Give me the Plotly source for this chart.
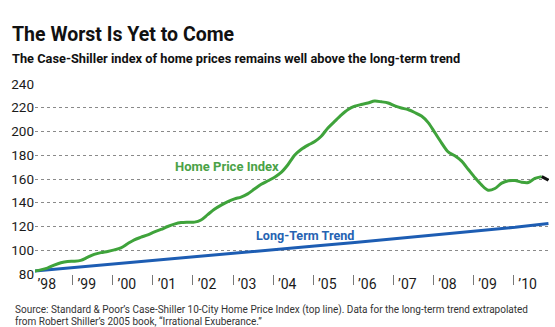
import plotly.graph_objects as go

# Case-Shiller 10-City Home Price Index (monthly readings, every other month)
hpi_dates = [
    "1998-01-15", "1998-03-15", "1998-05-15", "1998-07-15", "1998-09-15", "1998-11-15",
    "1999-01-15", "1999-03-15", "1999-05-15", "1999-07-15", "1999-09-15", "1999-11-15",
    "2000-01-15", "2000-03-15", "2000-05-15", "2000-07-15", "2000-09-15", "2000-11-15",
    "2001-01-15", "2001-03-15", "2001-05-15", "2001-07-15", "2001-09-15", "2001-11-15",
    "2002-01-15", "2002-03-15", "2002-05-15", "2002-07-15", "2002-09-15", "2002-11-15",
    "2003-01-15", "2003-03-15", "2003-05-15", "2003-07-15", "2003-09-15", "2003-11-15",
    "2004-01-15", "2004-03-15", "2004-05-15", "2004-07-15", "2004-09-15", "2004-11-15",
    "2005-01-15", "2005-03-15", "2005-05-15", "2005-07-15", "2005-09-15", "2005-11-15",
    "2006-01-15", "2006-03-15", "2006-05-15", "2006-07-15", "2006-09-15", "2006-11-15",
    "2007-01-15", "2007-03-15", "2007-05-15", "2007-07-15", "2007-09-15", "2007-11-15",
    "2008-01-15", "2008-03-15", "2008-05-15", "2008-07-15", "2008-09-15", "2008-11-15",
    "2009-01-15", "2009-03-15", "2009-05-15", "2009-07-15", "2009-09-15", "2009-11-15",
    "2010-01-15", "2010-03-15", "2010-05-15", "2010-07-15", "2010-09-15", "2010-11-15",
]
hpi_values = [
    82.5, 83.5, 85.0, 87.5, 89.5, 90.6,
    90.8, 91.5, 94.0, 96.5, 98.0, 99.0,
    100.3, 102.0, 105.5, 108.8, 111.0, 113.0,
    115.5, 117.5, 120.0, 122.0, 123.3, 123.6,
    123.7, 125.5, 130.0, 134.5, 138.0, 141.0,
    143.3, 144.8, 147.5, 151.5, 155.5, 158.5,
    161.5, 165.5, 172.0, 180.0, 185.0, 188.5,
    191.5, 196.0, 203.0, 208.5, 214.0, 218.5,
    221.3, 222.8, 224.0, 225.6, 225.0, 224.0,
    221.5, 219.8, 218.5, 216.0, 213.0, 207.5,
    199.0, 190.5, 182.8, 179.5, 175.0, 168.0,
    161.0, 155.0, 150.5, 152.0, 156.5, 158.5,
    158.7, 157.3, 157.0, 160.5, 162.0, 159.0,
]

# Long-term trend extrapolated from Shiller (yearly points)
trend_dates = [
    "1998-01-15", "1999-01-15", "2000-01-15", "2001-01-15", "2002-01-15",
    "2003-01-15", "2004-01-15", "2005-01-15", "2006-01-15", "2007-01-15",
    "2008-01-15", "2009-01-15", "2010-01-15", "2010-11-15",
]
trend_values = [
    82.5, 85.6, 88.7, 91.8, 94.8,
    97.8, 100.6, 103.6, 106.6, 109.7,
    112.8, 116.0, 119.3, 122.6,
]

y_ticks = [80, 100, 120, 140, 160, 180, 200, 220, 240]

GREEN = "#3fa33b"
GREEN_TEXT = "#4aa247"
BLUE = "#1d5db3"
BLUE_TEXT = "#2663b2"
FONT = "Roboto, Liberation Sans, sans-serif"

fig = go.Figure()

fig.add_trace(go.Scatter(
    x=trend_dates, y=trend_values, mode="lines",
    line=dict(color=BLUE, width=3), hoverinfo="skip", showlegend=False,
))
fig.add_trace(go.Scatter(
    x=hpi_dates[:-1], y=hpi_values[:-1], mode="lines",
    line=dict(color=GREEN, width=3, shape="spline", smoothing=0.8),
    hoverinfo="skip", showlegend=False,
))
# most recent reading drawn in black
fig.add_trace(go.Scatter(
    x=hpi_dates[-2:], y=hpi_values[-2:], mode="lines",
    line=dict(color="#111111", width=3), hoverinfo="skip", showlegend=False,
))

fig.update_layout(
    width=555, height=327,
    margin=dict(l=35, r=6, t=84, b=53),
    paper_bgcolor="white", plot_bgcolor="white",
    xaxis=dict(
        type="date",
        range=["1998-01-22", "2010-11-20"],
        tick0="1998-01-01", dtick="M12",
        ticklabelmode="period",
        tickformat="\u2019%y",
        ticks="outside", ticklen=10, tickcolor="#777777", tickwidth=1,
        ticklabelstandoff=-13,
        showgrid=False, zeroline=False, showline=False,
        tickfont=dict(family=FONT, size=14, color="#1a1a1a"),
        ticklabelshift=-6,
    ),
    yaxis=dict(
        range=[80, 240],
        tickvals=y_ticks,
        ticks="",
        showgrid=True, gridcolor="#8a8a8a", gridwidth=1, griddash="dot",
        zeroline=False, showline=False,
        tickfont=dict(family=FONT, size=13.5, color="#1a1a1a"),
    ),
    annotations=[
        dict(text="The Worst Is Yet to Come", xref="paper", yref="paper",
             x=(10 - 35) / 514, y=(274 - 34) / 190, xanchor="left", yanchor="middle",
             showarrow=False, font=dict(family=FONT, size=19.5, color="#111111", weight="bold")),
        dict(text="The Case-Shiller index of home prices remains well above the long-term trend",
             xref="paper", yref="paper",
             x=(10 - 35) / 514, y=(274 - 58) / 190, xanchor="left", yanchor="middle",
             showarrow=False, font=dict(family=FONT, size=12.8, color="#111111", weight="bold")),
        dict(text="Source: Standard & Poor\u2019s Case-Shiller 10-City Home Price Index (top line). "
                  "Data for the long-term trend extrapolated",
             xref="paper", yref="paper",
             x=(13 - 35) / 514, y=(274 - 310) / 190, xanchor="left", yanchor="middle",
             showarrow=False, font=dict(family=FONT, size=10, color="#333333")),
        dict(text="from Robert Shiller\u2019s 2005 book, \u201cIrrational Exuberance.\u201d",
             xref="paper", yref="paper",
             x=(13 - 35) / 514, y=(274 - 321) / 190, xanchor="left", yanchor="middle",
             showarrow=False, font=dict(family=FONT, size=10, color="#333333")),
        dict(text="Home Price Index", x="2002-11-06", y=170.4, xref="x", yref="y",
             xanchor="center", yanchor="middle", showarrow=False,
             font=dict(family=FONT, size=13, color=GREEN_TEXT, weight="bold")),
        dict(text="Long-Term Trend", x="2004-10-18", y=112.6, xref="x", yref="y",
             xanchor="center", yanchor="middle", showarrow=False,
             font=dict(family=FONT, size=12.6, color=BLUE_TEXT, weight="bold")),
    ],
)

fig.write_html("out.html")
